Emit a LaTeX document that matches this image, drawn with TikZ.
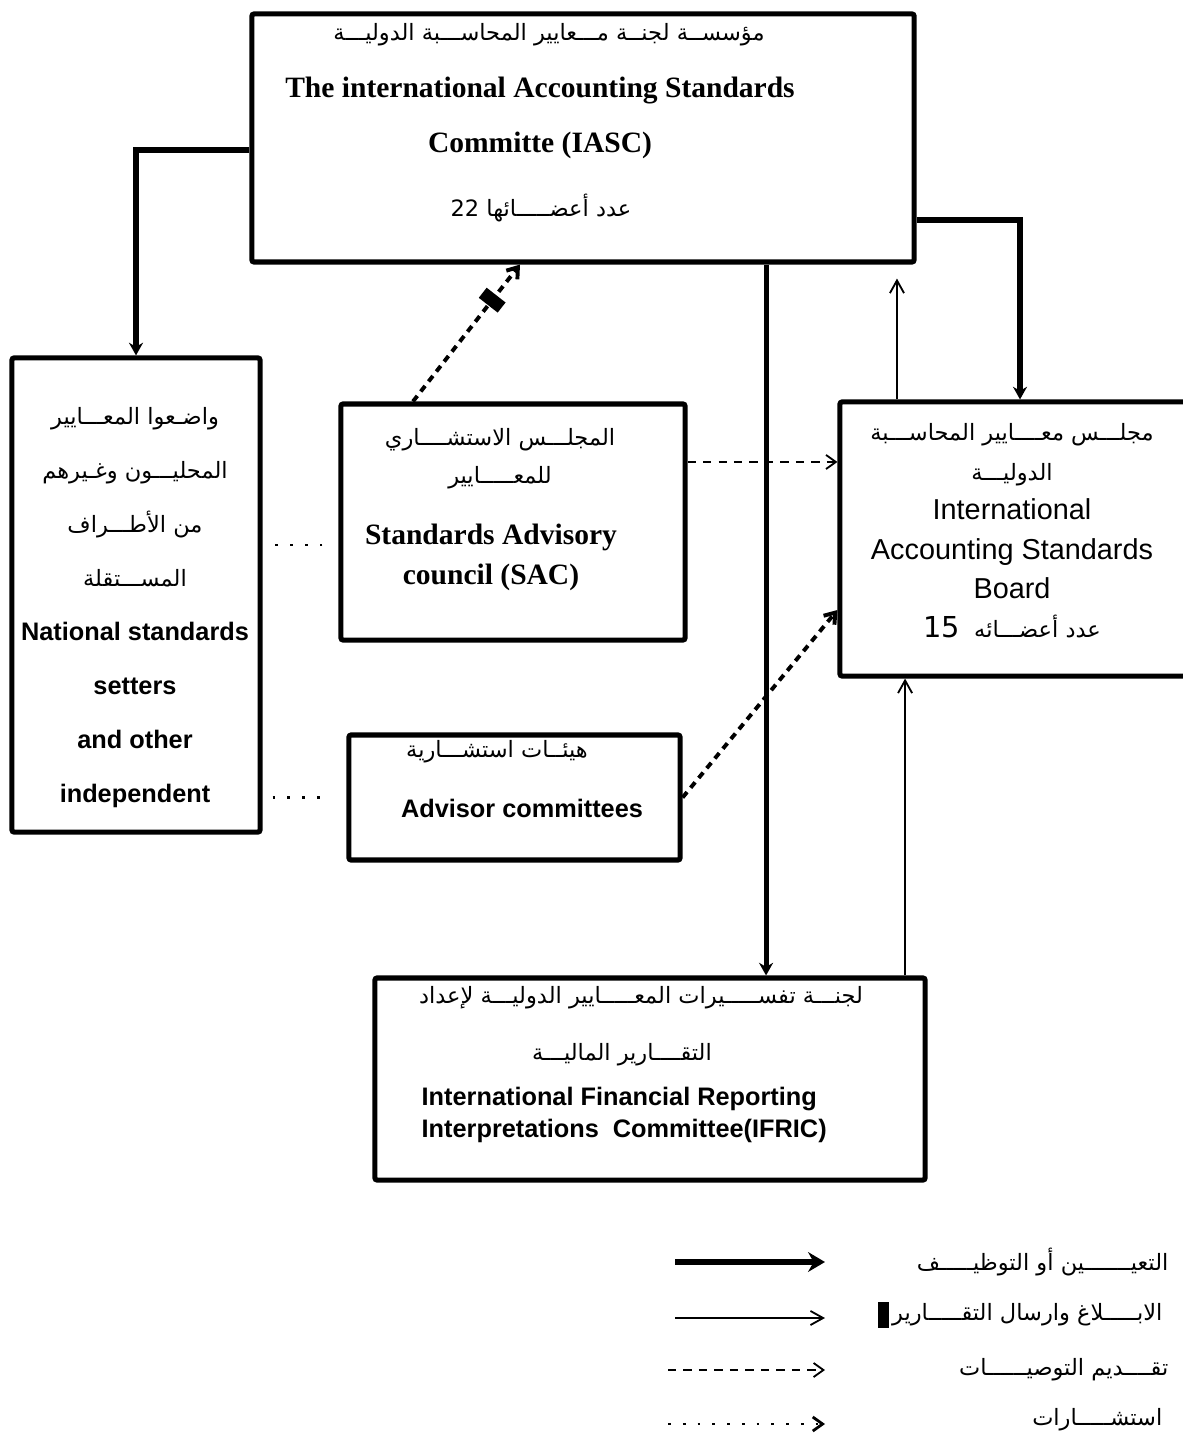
\documentclass[tikz,border=0pt]{standalone}
\usepackage{fontspec}
\setmainfont{Liberation Sans}
\newfontfamily\timesfont{Liberation Serif}
\newfontfamily\arabicfont[Script=Arabic]{DejaVu Sans}
\TeXXeTstate=1
\usetikzlibrary{arrows.meta, positioning}
% one line of arabic, set right to left
\newcommand{\artext}[1]{{\arabicfont\beginR #1\endR}}
\newcommand{\entext}[1]{{\fontsize{18}{38.4}\selectfont\bfseries #1}}
\tikzset{
    box/.style={ % the frames of the bodies
        draw,
        line width=3.6pt,
        rounded corners=1.5pt,
        inner sep=0pt
    },
    arline/.style={inner sep=1pt, font=\fontsize{16}{27}\selectfont},
    serifline/.style={inner sep=1pt, align=center, font=\timesfont\bfseries\fontsize{21}{39}\selectfont},
    sansline/.style={inner sep=1pt, font=\bfseries\fontsize{18}{23}\selectfont},
    appoint/.style={ % appointment
        draw,
        line width=3.6pt,
        -{Stealth[length=9pt,width=10pt]}
    },
    report/.style={ % reporting
        draw,
        line width=1.3pt,
        -{Straight Barb[length=9pt,width=10pt]}
    },
    recommend/.style={ % recommendations
        draw,
        line width=1.3pt,
        dash pattern=on 6pt off 5pt,
        -{Straight Barb[length=7pt,width=10pt]}
    },
    recthick/.style={
        draw,
        line width=2.8pt,
        dash pattern=on 5pt off 4pt,
        -{Straight Barb[length=7pt,width=10pt]}
    },
    consult/.style={ % consultations
        draw,
        line width=2pt,
        dash pattern=on 2pt off 8.5pt
    }
}
\begin{document}
\begin{tikzpicture}[x=0.025cm, y=-0.025cm]
    \useasboundingbox (0,0) rectangle (1182,1437);

    % the bodies
    \node[box, minimum width=16.55cm, minimum height=6.2cm]  (iasc)  at (583,138)   {};
    \node[box, minimum width=6.2cm,   minimum height=11.85cm] (natl) at (136,595)   {};
    \node[box, minimum width=8.6cm,   minimum height=5.9cm]  (sac)   at (513,522)   {};
    \node[box, minimum width=9cm,     minimum height=6.85cm] (iasb)  at (1020,539)  {};
    \node[box, minimum width=8.275cm, minimum height=3.125cm] (advc) at (514.5,797.5) {};
    \node[box, minimum width=13.75cm, minimum height=5.05cm] (ifric) at (650,1079)  {};

    % texts of the bodies
    \node[arline]    (iasc-ar)  at (549,35)  {\artext{مؤسســة لجنــة مـــعايير المحاســـبة الدوليـــة}};
    \node[serifline] (iasc-en)  at (540,118) {The international Accounting Standards\\Committe (IASC)};
    \node[arline]    (iasc-num) at (541,208) {\artext{عدد أعضـــــائها \beginL22\endL}};

    \node[arline, align=center, font=\fontsize{16}{38.4}\selectfont] (natl-txt) at (135,608)
        {\artext{واضـعوا المعـــايير}\\ \artext{المحليـــون وغـيرهم}\\
         \artext{من الأطـــراف}\\ \artext{المســـتقلة}\\
         \entext{National standards}\\ \entext{setters}\\ \entext{and other}\\ \entext{independent}};

    \node[arline, align=center] (sac-ar) at (500,459) {\artext{المجلـــس الاستشــــاري}\\ \artext{للمعـــــايير}};
    \node[serifline, font=\timesfont\bfseries\fontsize{21}{28.5}\selectfont] (sac-en) at (491,557)
        {Standards Advisory\\council (SAC)};

    \node[arline, align=center, font=\fontsize{16}{28}\selectfont] (iasb-txt) at (1012,531)
        {\artext{مجلـــس معــــايير المحاســـبة}\\ \artext{الدوليـــة}\\
         {\fontsize{20.5}{28}\selectfont International}\\
         {\fontsize{20.5}{28}\selectfont Accounting Standards}\\
         {\fontsize{20.5}{28}\selectfont Board}\\
         \artext{عدد أعضـــائه \ {\fontsize{20.5}{28}\selectfont\beginL15\endL}}};

    \node[arline]   (advc-ar) at (497,752) {\artext{هيئــات استشـــارية}};
    \node[sansline] (advc-en) at (522,808) {Advisor committees};

    \node[arline]   (ifric-ar1) at (641,998)  {\artext{لجنـــة تفســـــيرات المعـــــايير الدوليـــة لإعداد}};
    \node[arline]   (ifric-ar2) at (622,1055) {\artext{التقــــارير الماليـــة}};
    \node[sansline, align=left, anchor=west, font=\bfseries\fontsize{18}{22.8}\selectfont] (ifric-en) at (420,1115)
        {International Financial Reporting\\Interpretations~ Committee(IFRIC)};

    % connectors
    \draw[appoint] ([yshift=-0.3cm]iasc.west) -| (natl.north);
    \draw[appoint] ([yshift=-2.05cm]iasc.east) -| (iasb.north);
    \draw[appoint] ([xshift=4.575cm]iasc.south) coordinate (down) -- (down |- ifric.north);
    \draw[report]  ([xshift=6.375cm]ifric.north) coordinate (up) -- (up |- iasb.south);
    \draw[report, shorten >=0.35cm] ([xshift=-3.075cm]iasb.north) coordinate (back) -- (back |- iasc.south);
    \draw[recthick] ([xshift=-2.5cm]sac.north) -- ([xshift=-1.575cm]iasc.south)
        node[pos=0.74, sloped, fill=black, inner sep=0pt, minimum width=0.32cm, minimum height=0.6cm] (mark) {};
    \draw[recommend] ([yshift=1.5cm]sac.east) coordinate (adv) -- (adv -| iasb.west);
    \draw[recthick] (advc.east) -- ([yshift=-1.775cm]iasb.west);
    \draw[consult, shorten <=0.4cm, shorten >=0.2cm] ([yshift=-0.575cm]sac.west) coordinate (dots) -- (dots -| natl.east);
    \draw[consult, shorten <=0.25cm, shorten >=0.4cm] (natl.east |- advc.west) -- (advc.west);

    % legend
    \coordinate (k1) at (675,1262); \coordinate (k1e) at (825,1262);
    \coordinate (k2) at (675,1318); \coordinate (k2e) at (825,1318);
    \coordinate (k3) at (668,1370); \coordinate (k3e) at (825,1370);
    \coordinate (k4) at (668,1424); \coordinate (k4e) at (825,1424);
    \draw[appoint, -{Stealth[length=12pt,width=14pt]}] (k1) -- (k1e);
    \draw[report]    (k2) -- (k2e);
    \draw[recommend] (k3) -- (k3e);
    \draw[consult, -{Straight Barb[length=7pt,width=10pt]}] (k4) -- (k4e);
    \node[arline, anchor=east] (key1) at (1170,1262) {\artext{التعيـــــــين أو التوظيـــــف}};
    \node[arline, anchor=east] (key2) at (1164,1315) {\artext{الابـــــلاغ وارسال التقـــــارير}};
    \node[fill=black, inner sep=0pt, minimum width=0.28cm, minimum height=0.66cm, anchor=east] (keymark) at ([xshift=-1pt]key2.west) {};
    \node[arline, anchor=east] (key3) at (1170,1370) {\artext{تقــــديم التوصيــــــات}};
    \node[arline, anchor=east] (key4) at (1164,1420) {\artext{استشـــــارات}};
\end{tikzpicture}
\end{document}
